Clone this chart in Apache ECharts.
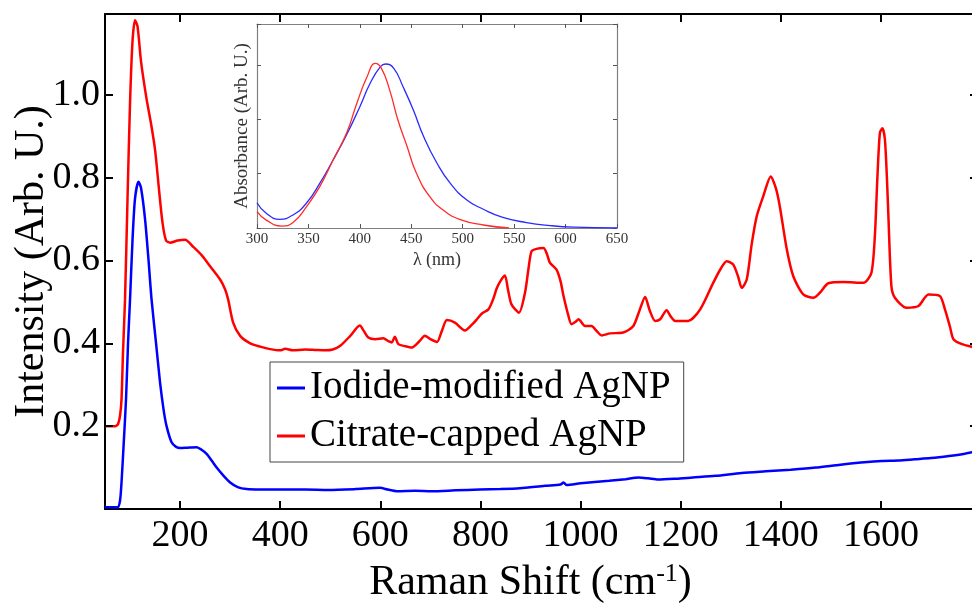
<!DOCTYPE html>
<html>
<head>
<meta charset="utf-8">
<title>Raman spectra of AgNP</title>
<script src="https://cdn.jsdelivr.net/npm/echarts@6/dist/echarts.min.js"></script>
<style>
  html, body { margin: 0; padding: 0; background: #fff; }
  #chart { width: 972px; height: 607px; }
</style>
</head>
<body>
<div id="chart"></div>
<script>
// Raman spectra (main plot)
const citrateShift = [50, 70, 76, 80, 83, 86, 90, 95, 100, 105, 110, 115, 122, 133, 142, 150, 158, 165, 172, 180, 195, 210, 227, 245, 260, 280, 290, 296, 306, 320, 340, 360, 380, 400, 410, 425, 450, 470, 490, 505, 520, 540, 559, 567, 576, 590, 606, 616, 623, 629, 636, 650, 663, 678, 689, 700, 713, 723, 733, 749, 769, 783, 793, 803, 816, 825, 833, 843, 849, 855, 862, 877, 889, 896, 902, 912, 926, 933, 939, 952, 960, 966, 975, 982, 990, 996, 1009, 1022, 1032, 1042, 1059, 1085, 1105, 1118, 1129, 1138, 1149, 1159, 1172, 1180, 1189, 1215, 1239, 1265, 1280, 1292, 1305, 1315, 1322, 1332, 1342, 1352, 1365, 1380, 1390, 1398, 1412, 1425, 1445, 1465, 1478, 1495, 1525, 1565, 1581, 1588, 1593, 1598, 1603, 1608, 1612, 1615, 1621, 1628, 1651, 1675, 1695, 1718, 1728, 1738, 1745, 1762, 1794];
const citrateInt = [0.200, 0.200, 0.205, 0.225, 0.265, 0.38, 0.506, 0.75, 0.98, 1.13, 1.18, 1.165, 1.08, 0.99, 0.93, 0.867, 0.77, 0.69, 0.648, 0.643, 0.648, 0.65, 0.632, 0.61, 0.586, 0.554, 0.53, 0.506, 0.45, 0.418, 0.400, 0.392, 0.386, 0.383, 0.387, 0.383, 0.385, 0.384, 0.383, 0.385, 0.394, 0.418, 0.443, 0.43, 0.414, 0.41, 0.412, 0.405, 0.402, 0.416, 0.398, 0.393, 0.39, 0.405, 0.418, 0.41, 0.403, 0.43, 0.456, 0.45, 0.431, 0.445, 0.458, 0.472, 0.482, 0.505, 0.534, 0.556, 0.564, 0.53, 0.494, 0.474, 0.522, 0.58, 0.622, 0.628, 0.63, 0.615, 0.594, 0.578, 0.55, 0.514, 0.47, 0.446, 0.452, 0.458, 0.442, 0.442, 0.43, 0.419, 0.424, 0.426, 0.441, 0.48, 0.512, 0.48, 0.454, 0.458, 0.48, 0.465, 0.454, 0.454, 0.482, 0.546, 0.58, 0.598, 0.59, 0.56, 0.534, 0.554, 0.64, 0.707, 0.755, 0.803, 0.775, 0.731, 0.627, 0.562, 0.518, 0.51, 0.522, 0.545, 0.548, 0.546, 0.570, 0.66, 0.80, 0.908, 0.919, 0.892, 0.80, 0.707, 0.538, 0.51, 0.486, 0.49, 0.518, 0.514, 0.482, 0.44, 0.41, 0.398, 0.388];

const iodideShift = [50, 75, 80, 83, 87, 92, 96, 100, 105, 110, 117, 122, 130, 137, 143, 152, 160, 167, 173, 183, 192, 200, 215, 233, 243, 253, 263, 273, 287, 300, 315, 333, 360, 397, 450, 496, 550, 599, 615, 633, 670, 702, 750, 799, 840, 879, 929, 960, 966, 972, 1000, 1057, 1090, 1116, 1135, 1155, 1190, 1224, 1270, 1322, 1370, 1420, 1470, 1519, 1560, 1601, 1635, 1667, 1700, 1736, 1765, 1794];
const iodideInt = [0.004, 0.004, 0.02, 0.064, 0.15, 0.265, 0.40, 0.506, 0.65, 0.75, 0.79, 0.775, 0.70, 0.60, 0.506, 0.40, 0.305, 0.24, 0.20, 0.161, 0.150, 0.147, 0.148, 0.149, 0.143, 0.133, 0.117, 0.10, 0.08, 0.064, 0.053, 0.048, 0.047, 0.047, 0.047, 0.046, 0.048, 0.051, 0.047, 0.043, 0.044, 0.043, 0.045, 0.047, 0.048, 0.050, 0.056, 0.059, 0.064, 0.058, 0.062, 0.068, 0.072, 0.076, 0.074, 0.071, 0.073, 0.076, 0.080, 0.087, 0.091, 0.095, 0.100, 0.107, 0.112, 0.116, 0.117, 0.12, 0.123, 0.128, 0.133, 0.14];

// axis ranges / ticks
const shiftRange = [50, 1794];
const shiftTicks = [200, 400, 600, 800, 1000, 1200, 1400, 1600];
const shiftTickStep = 200;
const intensityRange = [0, 1.195];
const intensityTicks = [0.2, 0.4, 0.6, 0.8, 1.0];
const intensityTickStep = 0.2;

// UV-Vis absorbance (inset)
const iodideWl = [300, 309, 322, 335, 348, 361, 374, 387, 400, 410, 420, 425, 433, 442, 452, 462, 475, 488, 504, 520, 539, 562, 585, 608, 650];
const iodideAbs = [0.093, 0.054, 0.032, 0.048, 0.091, 0.164, 0.25, 0.342, 0.446, 0.532, 0.593, 0.603, 0.587, 0.519, 0.434, 0.336, 0.238, 0.164, 0.103, 0.069, 0.039, 0.02, 0.009, 0.003, 0.0];
const citrateWl = [300, 309, 324, 335, 348, 361, 374, 387, 397, 407, 415, 421, 429, 437, 446, 455, 468, 481, 497, 520, 545];
const citrateAbs = [0.06, 0.029, 0.007, 0.02, 0.078, 0.152, 0.25, 0.348, 0.458, 0.556, 0.605, 0.587, 0.507, 0.397, 0.299, 0.201, 0.115, 0.066, 0.032, 0.011, 0.0];

const pairs = (xs, ys) => xs.map((x, i) => [x, ys[i]]);

const serif = 'Liberation Serif';
const black = '#000';

// main plot box in px; the tick strips start where shift = 0
const plotLeft = 105, plotTop = 14, plotW = 873, plotH = 495;
const pxPerUnit = plotW / (shiftRange[1] - shiftRange[0]);
const stripLeft = plotLeft - shiftRange[0] * pxPerUnit;
const stripW = plotW + shiftRange[0] * pxPerUnit;
const tickLen = 8;

// tick length expressed in data units of each axis
const tickDx = tickLen / pxPerUnit;
const tickDy = tickLen * (intensityRange[1] - intensityRange[0]) / plotH;

const mainTick = () => ({ show: true, inside: true, length: tickLen, lineStyle: { color: black, width: 2 } });
const mainLine = () => ({ show: true, onZero: false, lineStyle: { color: black, width: 2 } });
const insetTick = () => ({ show: true, inside: true, length: 4, lineStyle: { color: '#555', width: 1 } });
const insetLine = () => ({ show: true, onZero: false, lineStyle: { color: '#808080', width: 1.2 } });
const off = () => ({ show: false });

// x labels (and ticks) from thin strips whose scale starts at 0
const stripAxis = (gridIndex, showLabels) => ({
  type: 'value', gridIndex, min: 0, max: shiftRange[1], interval: shiftTickStep,
  axisLine: off(), axisTick: off(),
  splitLine: { show: true, showMinLine: false, showMaxLine: false, lineStyle: { color: black, width: 2 } },
  axisLabel: {
    show: showLabels, fontFamily: serif, fontSize: 38, color: black, margin: 8,
    formatter: v => shiftTicks.includes(v) ? String(v) : ''
  }
});

// inward tick marks on all four sides of the main box
const seg = (a, b) => [{ coord: a }, { coord: b }];
const tickMarks = [
  ...shiftTicks.map(x => seg([x, intensityRange[0]], [x, intensityRange[0] + tickDy])),
  ...shiftTicks.map(x => seg([x, intensityRange[1]], [x, intensityRange[1] - tickDy])),
  ...intensityTicks.map(y => seg([shiftRange[0], y], [shiftRange[0] + tickDx, y])),
  ...intensityTicks.map(y => seg([shiftRange[1], y], [shiftRange[1] - tickDx, y]))
];

const chart = echarts.init(document.getElementById('chart'));

chart.setOption({
  animation: false,
  grid: [
    { left: plotLeft, top: plotTop, width: plotW, height: plotH, outerBoundsMode: 'none', containLabel: false },
    { left: 257, top: 24, width: 360, height: 204, outerBoundsMode: 'none', containLabel: false },
    { left: stripLeft, top: plotTop + plotH - tickLen, width: stripW, height: tickLen, outerBoundsMode: 'none', containLabel: false },
    { left: stripLeft, top: plotTop, width: stripW, height: tickLen, outerBoundsMode: 'none', containLabel: false }
  ],
  legend: {
    data: ['Iodide-modified AgNP', 'Citrate-capped AgNP'],
    orient: 'vertical',
    left: 270,
    top: 362,
    padding: [4, 13, 4, 7],
    itemGap: 4,
    itemWidth: 28,
    itemHeight: 3,
    icon: 'rect',
    borderColor: '#444',
    borderWidth: 1,
    backgroundColor: '#fff',
    textStyle: { fontFamily: serif, fontSize: 39, color: black, lineHeight: 44 }
  },
  xAxis: [
    {
      type: 'value', gridIndex: 0, min: shiftRange[0], max: shiftRange[1],
      name: 'Raman Shift (cm{sup|-1})', nameLocation: 'middle', nameGap: 52,
      nameTextStyle: {
        fontFamily: serif, fontSize: 42, color: black, padding: [0, 22, 0, 0],
        rich: { sup: { fontFamily: serif, fontSize: 26, color: black, verticalAlign: 'top', padding: [0, 0, 18, 0] } }
      },
      axisLine: mainLine(), axisTick: off(), axisLabel: off(), splitLine: off()
    },
    {
      type: 'value', gridIndex: 0, min: shiftRange[0], max: shiftRange[1], position: 'top',
      axisLine: mainLine(), axisTick: off(), axisLabel: off(), splitLine: off()
    },
    {
      type: 'value', gridIndex: 1, min: 300, max: 650, interval: 50,
      name: 'λ (nm)', nameLocation: 'middle', nameGap: 23,
      nameTextStyle: { fontFamily: serif, fontSize: 18, color: '#333' },
      axisLine: insetLine(),
      axisTick: insetTick(),
      axisLabel: { fontFamily: serif, fontSize: 15, color: '#333', margin: 4 },
      splitLine: off()
    },
    {
      type: 'value', gridIndex: 1, min: 300, max: 650, interval: 50, position: 'top',
      axisLine: insetLine(), axisTick: insetTick(), axisLabel: off(), splitLine: off()
    },
    stripAxis(2, true),
    stripAxis(3, false)
  ],
  yAxis: [
    {
      type: 'value', gridIndex: 0, min: intensityRange[0], max: intensityRange[1], interval: intensityTickStep,
      name: 'Intensity (Arb. U.)', nameLocation: 'middle', nameGap: 52, nameMoveOverlap: false,
      nameTextStyle: { fontFamily: serif, fontSize: 42, color: black },
      axisLine: mainLine(),
      axisTick: mainTick(),
      axisLabel: {
        fontFamily: serif, fontSize: 38, color: black, margin: 5,
        formatter: v => (v > 0 && v < 1.1) ? v.toFixed(1) : ''
      },
      splitLine: off()
    },
    {
      type: 'value', gridIndex: 0, min: intensityRange[0], max: intensityRange[1], interval: intensityTickStep, position: 'right',
      axisLine: mainLine(), axisTick: mainTick(), axisLabel: off(), splitLine: off()
    },
    {
      type: 'value', gridIndex: 1, min: 0, max: 0.75, interval: 0.2,
      name: 'Absorbance (Arb. U.)', nameLocation: 'middle', nameGap: 5,
      nameTextStyle: { fontFamily: serif, fontSize: 19, color: '#333' },
      axisLine: insetLine(), axisTick: insetTick(), axisLabel: off(), splitLine: off()
    },
    {
      type: 'value', gridIndex: 1, min: 0, max: 0.75, interval: 0.2, position: 'right',
      axisLine: insetLine(), axisTick: insetTick(), axisLabel: off(), splitLine: off()
    },
    { type: 'value', gridIndex: 2, show: false },
    { type: 'value', gridIndex: 3, show: false }
  ],
  series: [
    {
      name: 'Iodide-modified AgNP', type: 'line', xAxisIndex: 0, yAxisIndex: 0,
      data: pairs(iodideShift, iodideInt),
      showSymbol: false, smooth: 0.25,
      lineStyle: { color: '#0000ff', width: 2.5 }, itemStyle: { color: '#0000ff' }
    },
    {
      name: 'Citrate-capped AgNP', type: 'line', xAxisIndex: 0, yAxisIndex: 0,
      data: pairs(citrateShift, citrateInt),
      showSymbol: false, smooth: 0.25,
      lineStyle: { color: '#ff0000', width: 2.5 }, itemStyle: { color: '#ff0000' },
      markLine: {
        silent: true, animation: false, symbol: ['none', 'none'],
        label: { show: false }, emphasis: { disabled: true },
        lineStyle: { color: black, width: 2, type: 'solid' },
        data: tickMarks
      }
    },
    {
      name: 'Iodide UV-Vis', type: 'line', xAxisIndex: 2, yAxisIndex: 2,
      data: pairs(iodideWl, iodideAbs),
      showSymbol: false, smooth: 0.5,
      lineStyle: { color: '#2a2aff', width: 1.3 }
    },
    {
      name: 'Citrate UV-Vis', type: 'line', xAxisIndex: 2, yAxisIndex: 2,
      data: pairs(citrateWl, citrateAbs),
      showSymbol: false, smooth: 0.5,
      lineStyle: { color: '#ff2a2a', width: 1.3 }
    }
  ]
});
</script>
</body>
</html>
